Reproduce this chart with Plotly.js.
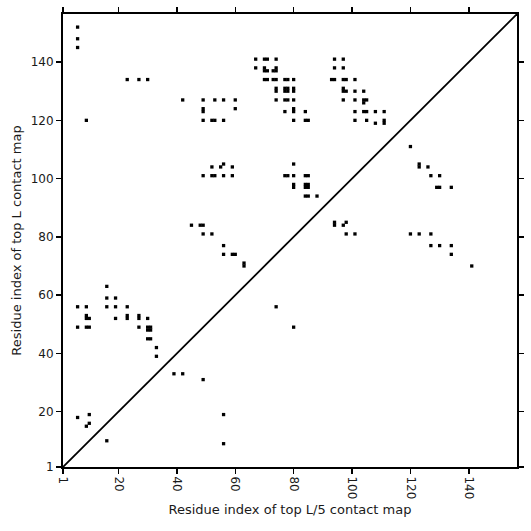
<!DOCTYPE html>
<html>
<head>
<meta charset="utf-8">
<script src="https://cdn.plot.ly/plotly-3.0.1.min.js"></script>
<style>html,body{margin:0;padding:0;background:#fff;}#chart{width:531px;height:531px;}</style>
</head>
<body>
<div id="chart"></div>
<script>
// Sequence length / axis extent
const seqLength = 156.5;
const tickValues = [1, 20, 40, 60, 80, 100, 120, 140];
const tickLabels = ["1", "20", "40", "60", "80", "100", "120", "140"];

// Top L contacts (upper triangle)
const topLx = [
  6, 6, 6,
  67, 70, 71, 74, 94, 97,
  67, 70, 74, 94, 97, 70, 71, 73, 74,
  23, 27, 30, 70, 71, 73, 74, 77, 78, 80, 93, 94, 97, 98, 101,
  74, 74, 77, 77, 78, 78, 80, 80, 97, 97, 98, 101, 104,
  42, 49, 53, 56, 60, 74, 77, 78, 80, 97, 101, 104, 104, 105,
  49, 49, 60, 77, 80, 80, 84, 101, 104, 105, 108, 111,
  9, 49, 52, 53, 56, 80, 84, 85, 101, 105, 108, 111, 111,
  52, 55, 56, 59, 80,
  49, 52, 53, 56, 59, 77, 78, 80, 84, 85,
  80, 80, 84, 85, 84, 85,
  84, 85, 88,
  45, 48, 49, 49, 52,
  56, 56, 59, 60, 63, 63,
  16, 16, 19, 6, 9, 16, 19, 23,
  9, 9, 10, 19, 23, 23, 27, 27, 30,
  6, 9, 10, 27, 30, 31, 30, 31, 30, 31,
  33, 33,
  6, 10, 9, 10
];
const topLy = [
  152, 148, 145,
  141, 141, 141, 141, 141, 141,
  138, 138, 138, 138, 138, 137, 137, 137, 137,
  134, 134, 134, 134, 134, 134, 134, 134, 134, 134, 134, 134, 134, 134, 134,
  131, 130, 131, 130, 131, 130, 131, 130, 131, 130, 130, 130, 130,
  127, 127, 127, 127, 127, 127, 127, 127, 127, 127, 127, 127, 126, 127,
  124, 123, 124, 123, 124, 123, 123, 123, 123, 123, 123, 123,
  120, 120, 120, 120, 120, 120, 120, 120, 120, 120, 119, 119, 120,
  104, 104, 105, 104, 105,
  101, 101, 101, 101, 101, 101, 101, 101, 101, 101,
  98, 97, 98, 98, 97, 97,
  94, 94, 94,
  84, 84, 84, 81, 81,
  77, 74, 74, 74, 71, 70,
  63, 59, 59, 56, 56, 56, 56, 56,
  53, 52, 52, 52, 53, 52, 53, 52, 52,
  49, 49, 49, 49, 49, 49, 48, 48, 45, 45,
  42, 39,
  18, 19, 15, 16
];

// Top L/5 contacts (lower triangle)
const topL5x = [74, 80, 56, 56, 39, 42, 49, 16,
  94, 94, 97, 98, 98, 101,
  120, 123, 123, 126, 127, 130, 129, 130, 134,
  120, 123, 127, 127, 130, 134, 134, 141];
const topL5y = [56, 49, 19, 9, 33, 33, 31, 10,
  84, 85, 84, 85, 81, 81,
  111, 104, 105, 104, 101, 101, 97, 97, 97,
  81, 81, 81, 77, 77, 77, 74, 70];

const diagonal = [1, seqLength];

const markerStyle = {symbol: 'square', size: 3.3, color: '#000000', line: {width: 0}};

const traces = [
  {x: diagonal, y: diagonal, mode: 'lines', line: {color: '#000000', width: 1.8}, hoverinfo: 'skip', showlegend: false},
  {x: topLx, y: topLy, mode: 'markers', type: 'scatter', marker: markerStyle, showlegend: false},
  {x: topL5x, y: topL5y, mode: 'markers', type: 'scatter', marker: markerStyle, showlegend: false}
];

const axisCommon = {
  range: [1, seqLength],
  tickmode: 'array',
  tickvals: tickValues,
  ticktext: tickLabels,
  showgrid: false,
  zeroline: false,
  showline: true,
  linecolor: '#000000',
  linewidth: 2,
  mirror: 'ticks',
  ticks: 'outside',
  ticklen: 5,
  tickwidth: 1.5,
  tickcolor: '#000000',
  tickfont: {family: 'DejaVu Sans', size: 12, color: '#1a1a1a'}
};

const layout = {
  width: 531,
  height: 531,
  margin: {l: 63, r: 14, t: 14, b: 64},
  paper_bgcolor: '#ffffff',
  plot_bgcolor: '#ffffff',
  showlegend: false,
  xaxis: Object.assign({}, axisCommon, {
    tickangle: 90,
    title: {text: 'Residue index of top L/5 contact map', font: {family: 'DejaVu Sans', size: 13, color: '#1a1a1a'}, standoff: 7}
  }),
  yaxis: Object.assign({}, axisCommon, {
    title: {text: 'Residue index of top L contact map', font: {family: 'DejaVu Sans', size: 13, color: '#1a1a1a'}, standoff: 6}
  })
};

Plotly.newPlot('chart', traces, layout, {displayModeBar: false, staticPlot: true});
</script>
</body>
</html>
